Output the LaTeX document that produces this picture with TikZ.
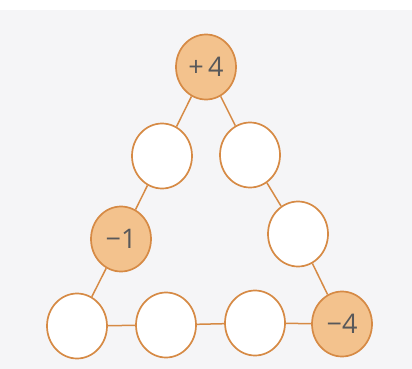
\documentclass[tikz,border=0pt]{standalone}
\usepackage{fontspec}
\setmainfont{Open Sans}
\usetikzlibrary{shapes.geometric}
\definecolor{ring}{HTML}{D68A45}
\definecolor{peach}{HTML}{F3C28D}
\definecolor{numtxt}{HTML}{58585A}
\definecolor{bg}{HTML}{F5F5F7}
\tikzset{
  cell/.style={ellipse, draw=ring, line width=1.7pt, fill=white, minimum width=60pt, minimum height=65pt, inner sep=0pt},
  given/.style={cell, fill=peach, text=numtxt, font=\fontsize{27}{27}\selectfont},
  link/.style={draw=ring, line width=1.5pt}
}
\begin{document}
\begin{tikzpicture}[x=1pt,y=-1pt]
\useasboundingbox (0,0) rectangle (412,369);
\fill[bg] (0,0) rectangle (412,369);
\fill[white] (0,0) rectangle (412,10);
\node[given] (t) at (206,67) {+\,4};
\node[cell] (l2) at (162,156) {};
\node[cell] (r2) at (250,155) {};
\node[given] (l3) at (121,239) {−1};
\node[cell] (r3) at (298,234) {};
\node[cell] (b1) at (77,326) {};
\node[cell] (b2) at (166,325) {};
\node[cell] (b3) at (255,323) {};
\node[given] (b4) at (342,324) {−4};
\draw[link] (t) -- (l2);
\draw[link] (t) -- (r2);
\draw[link] (l2) -- (l3);
\draw[link] (l3) -- (b1);
\draw[link] (r2) -- (r3);
\draw[link] (r3) -- (b4);
\draw[link] (b1) -- (b2);
\draw[link] (b2) -- (b3);
\draw[link] (b3) -- (b4);
\end{tikzpicture}
\end{document}
